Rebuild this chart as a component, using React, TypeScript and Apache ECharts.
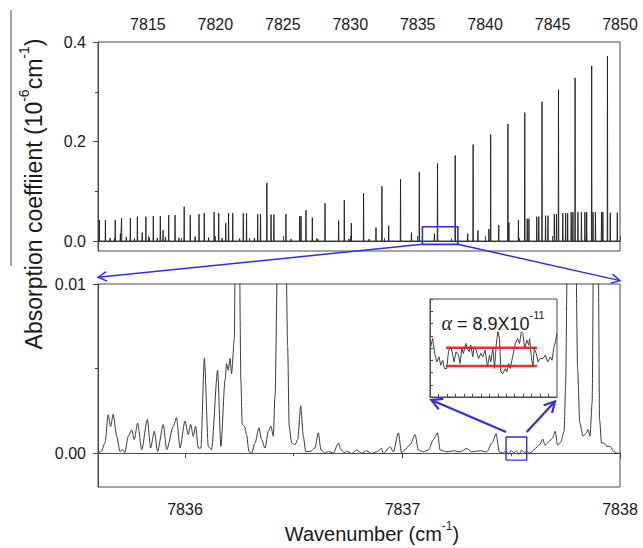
import React, { useEffect, useRef } from "react";
import * as echarts from "echarts";

// ---------- data ----------
// Top panel: survey spectrum, line positions (cm-1) and peak heights (1e-6 cm-1)
const strongLinePos = [
  7811.40, 7811.85, 7812.58, 7813.05, 7813.70, 7814.22, 7814.85, 7815.40, 7815.92, 7816.54,
  7817.01, 7817.69, 7818.14, 7818.79, 7819.18, 7819.91, 7820.25, 7820.98, 7821.29, 7822.07,
  7822.31, 7823.14, 7823.35, 7823.82, 7824.13, 7824.34, 7825.23, 7826.25, 7826.35, 7826.72,
  7827.19, 7828.13, 7829.14, 7829.56, 7830.08, 7830.99, 7831.91, 7832.35, 7832.85, 7833.73,
  7834.54, 7835.12, 7836.24, 7836.47, 7837.78, 7838.71, 7839.11, 7839.47, 7840.28, 7840.41,
  7841.01, 7841.69, 7841.77, 7842.47, 7842.94, 7843.12, 7843.25, 7843.83, 7843.98, 7844.22,
  7844.48, 7844.66, 7845.13, 7845.29, 7845.44, 7845.76, 7845.97, 7846.12, 7846.38, 7846.51,
  7846.67, 7846.88, 7847.14, 7847.40, 7847.53, 7847.90, 7848.00, 7848.18, 7848.63, 7848.73,
  7849.07, 7849.28, 7849.80,
];
const strongLineHeight = [
  0.042, 0.042, 0.042, 0.046, 0.046, 0.049, 0.049, 0.050, 0.050, 0.052,
  0.052, 0.069, 0.052, 0.054, 0.056, 0.058, 0.056, 0.056, 0.056, 0.056,
  0.056, 0.054, 0.054, 0.117, 0.053, 0.053, 0.054, 0.050, 0.050, 0.062,
  0.047, 0.076, 0.041, 0.082, 0.036, 0.096, 0.027, 0.110, 0.031, 0.124,
  0.017, 0.139, 0.015, 0.156, 0.172, 0.015, 0.194, 0.021, 0.024, 0.214,
  0.032, 0.235, 0.037, 0.042, 0.258, 0.045, 0.045, 0.049, 0.049, 0.280,
  0.051, 0.051, 0.054, 0.054, 0.304, 0.056, 0.056, 0.056, 0.058, 0.058,
  0.328, 0.058, 0.058, 0.058, 0.058, 0.352, 0.058, 0.058, 0.058, 0.058,
  0.372, 0.057, 0.057,
];
const weakLinePos = [
  7812.20, 7812.96, 7813.40, 7814.00, 7814.58, 7815.10, 7815.70, 7816.12, 7816.30, 7817.30,
  7818.50, 7819.50, 7820.50, 7820.77, 7821.80, 7822.90, 7825.60, 7827.60, 7829.90, 7831.40,
];
const weakLineHeight = [
  0.006, 0.015, 0.008, 0.005, 0.017, 0.007, 0.006, 0.022, 0.008, 0.006,
  0.009, 0.007, 0.006, 0.036, 0.005, 0.006, 0.004, 0.004, 0.004, 0.004,
];

// Bottom panel: zoomed spectrum 7835.6 - 7838 cm-1
const zoomWavenumber = [
  7835.600, 7835.615, 7835.632, 7835.647, 7835.658, 7835.670, 7835.686, 7835.701, 7835.712, 7835.724,
  7835.739, 7835.755, 7835.767, 7835.782, 7835.801, 7835.827, 7835.842, 7835.859, 7835.874, 7835.900,
  7835.916, 7835.946, 7835.961, 7835.977, 7836.000, 7836.015, 7836.026, 7836.038, 7836.049, 7836.061,
  7836.073, 7836.089, 7836.107, 7836.122, 7836.150, 7836.165, 7836.184, 7836.191, 7836.199, 7836.207,
  7836.214, 7836.227, 7836.231, 7836.242, 7836.250, 7836.257, 7836.263, 7836.273, 7836.283, 7836.294,
  7836.306, 7836.322, 7836.340, 7836.352, 7836.368, 7836.383, 7836.395, 7836.406, 7836.414, 7836.426,
  7836.445, 7836.464, 7836.472, 7836.479, 7836.490, 7836.506, 7836.518, 7836.532, 7836.544, 7836.555,
  7836.575, 7836.597, 7836.613, 7836.625, 7836.643, 7836.659, 7836.682, 7836.705, 7836.717, 7836.735,
  7836.743, 7836.766, 7836.789, 7836.812, 7836.835, 7836.858, 7836.881, 7836.904, 7836.912, 7836.943,
  7836.958, 7836.981, 7836.996, 7837.010, 7837.035, 7837.058, 7837.073, 7837.096, 7837.119, 7837.142,
  7837.161, 7837.173, 7837.204, 7837.234, 7837.265, 7837.295, 7837.318, 7837.356, 7837.387, 7837.415,
  7837.430, 7837.445, 7837.460, 7837.476, 7837.488, 7837.500, 7837.512, 7837.524, 7837.536, 7837.548,
  7837.560, 7837.571, 7837.584, 7837.595, 7837.610, 7837.630, 7837.645, 7837.655, 7837.672, 7837.690,
  7837.702, 7837.713, 7837.728, 7837.743, 7837.750, 7837.758, 7837.777, 7837.797, 7837.805, 7837.815,
  7837.830, 7837.845, 7837.853, 7837.862, 7837.872, 7837.878, 7837.890, 7837.900, 7837.906, 7837.915,
  7837.925, 7837.940, 7837.955, 7837.970, 7837.985, 7838.000,
];
const zoomAbsorption = [
  0.0000, 0.0001, 0.0006, 0.00227, 0.00158, 0.0023, 0.0010, 0.0001, 0.0002, 0.00004,
  0.0010, 0.00138, 0.0008, 0.00178, 0.0002, 0.0020, 0.0003, 0.0013, 0.0001, 0.0017,
  0.0002, 0.00158, 0.0021, 0.0003, 0.0019, 0.0011, 0.0017, 0.0010, 0.0016, 0.0003,
  0.0003, 0.0056, 0.0004, 0.0002, 0.0049, 0.0004, 0.0043, 0.0053, 0.0049, 0.0056,
  0.0047, 0.0068, 0.012, 0.020, 0.012, 0.0043, 0.0017, 0.0016, 0.0011, 0.0001,
  0.0000, 0.0006, 0.0015, 0.0008, 0.0003, 0.0013, 0.0016, 0.0010, 0.0034, 0.012,
  0.156, 0.012, 0.0063, 0.0016, 0.0006, 0.0005, 0.0008, 0.0028, 0.0010, 0.0001,
  0.0001, 0.0003, 0.0012, 0.0002, 0.0000, 0.0001, 0.0000, 0.0006, 0.0002, 0.0000,
  0.00013, -0.00002, 0.00018, 0.0000, 0.00014, -0.00002, 0.00008, 0.00028, -0.00002, 0.00038,
  0.00008, 0.0012, 0.0000, 0.0002, 0.0005, 0.0011, 0.00018, 0.00008, 0.00018, 0.0008,
  0.0012, 0.00018, 0.00008, 0.00014, 0.00008, 0.00028, 0.00008, 0.00014, 0.00008, 0.00067,
  0.00116, 0.00008, 0.0000, 0.00012, -0.00006, 0.00016, 0.00002, 0.00014, -0.00008, 0.00018,
  0.00004, 0.00010, 0.0000, 0.00008, 0.00028, 0.0005, 0.00083, 0.00047, 0.00067, 0.0009,
  0.0013, 0.00047, 0.00067, 0.0013, 0.0040, 0.012, 0.172, 0.012, 0.0050, 0.0018,
  0.0010, 0.0012, 0.0014, 0.0010, 0.0030, 0.012, 0.060, 0.012, 0.0020, 0.0006,
  0.0006, 0.0004, 0.0004, 0.0001, 0.0000, 0.0000,
];

// Inset: baseline noise inside the small blue box (arbitrary vertical units 0-100)
const insetWavenumber = [
  7837.4765, 7837.4780, 7837.4793, 7837.4810, 7837.4828, 7837.4840, 7837.4855, 7837.4868, 7837.4885, 7837.4898,
  7837.4910, 7837.4923, 7837.4940, 7837.4955, 7837.4973, 7837.4985, 7837.4998, 7837.5010, 7837.5028, 7837.5040,
  7837.5053, 7837.5065, 7837.5080, 7837.5090, 7837.5105, 7837.5123, 7837.5140, 7837.5155, 7837.5173, 7837.5190,
  7837.5205, 7837.5215, 7837.5230, 7837.5243, 7837.5255, 7837.5268, 7837.5280, 7837.5290, 7837.5305, 7837.5323,
  7837.5335, 7837.5348, 7837.5360, 7837.5378, 7837.5398, 7837.5415, 7837.5430, 7837.5443, 7837.5455, 7837.5468,
  7837.5485, 7837.5498, 7837.5505, 7837.5518, 7837.5530, 7837.5540, 7837.5555, 7837.5568, 7837.5585, 7837.5605,
  7837.5623, 7837.5640, 7837.5660, 7837.5673, 7837.5685, 7837.5698, 7837.5710,
];
const insetSignal = [
  51.2, 59.7, 46.1, 35.8, 41.0, 32.4, 37.5, 29.0, 29.0, 46.1,
  51.2, 47.8, 35.8, 46.1, 42.7, 34.1, 49.5, 44.4, 54.6, 49.5,
  46.1, 52.9, 41.0, 51.2, 47.8, 39.2, 44.4, 41.0, 47.8, 30.7,
  42.7, 35.8, 49.5, 29.0, 52.9, 66.6, 59.7, 25.6, 23.9, 29.0,
  25.6, 34.1, 29.0, 41.0, 54.6, 59.7, 54.6, 66.6, 64.8, 49.5,
  58.0, 52.9, 59.7, 41.0, 30.7, 49.5, 44.4, 35.8, 39.2, 39.2,
  42.7, 35.8, 41.0, 37.5, 49.5, 56.3, 64.8,
];
const noiseBandX = [7837.4880, 7837.5560];
const noiseBandLevels = [50.2, 31.7];

// Axis ticks and labels
const topMajorTicks = [7815, 7820, 7825, 7830, 7835, 7840, 7845, 7850];
const topMinorTicks = [7812.5, 7817.5, 7822.5, 7827.5, 7832.5, 7837.5, 7842.5, 7847.5];
const topYMajor = [0, 0.2, 0.4];
const topYMinor = [0.1, 0.3];
const bottomMajorTicks = [7836, 7837, 7838];
const bottomMinorTicks = [7836.5, 7837.5];
const bottomYMajor = [0, 0.01];
const bottomYMinor = [0.005];
const insetXTicks = [
  7837.4823, 7837.4887, 7837.4950, 7837.5013, 7837.5077, 7837.5140, 7837.5203,
  7837.5267, 7837.5330, 7837.5393, 7837.5457, 7837.5520, 7837.5583, 7837.5647,
];

// Zoom markers
const topBoxX = [7835.35, 7837.98];
const topBoxY = [-0.0066, 0.0287];
const smallBoxX = [7837.476, 7837.571];
const smallBoxY = [-0.00041, 0.00096];

const F = "Arial, 'Liberation Sans', Helvetica, sans-serif";
const AXIS = "#4a4a4a";
const BLUE = "#2d2df2";

function rectPath(xs: number[], ys: number[]) {
  return [
    [xs[0], ys[0]], [xs[1], ys[0]], [xs[1], ys[1]], [xs[0], ys[1]], [xs[0], ys[0]],
  ];
}

function arrow(from: number[], to: number[], width: number, head: number) {
  const dx = to[0] - from[0];
  const dy = to[1] - from[1];
  const L = Math.hypot(dx, dy) || 1;
  const ux = dx / L, uy = dy / L;
  const a = 0.5;
  const c = Math.cos(a), s = Math.sin(a);
  const r1 = [ux * c - uy * s, ux * s + uy * c];
  const r2 = [ux * c + uy * s, -ux * s + uy * c];
  const p1 = [to[0] - head * r1[0], to[1] - head * r1[1]];
  const p2 = [to[0] - head * r2[0], to[1] - head * r2[1]];
  return [
    { type: "line", z: 100, shape: { x1: from[0], y1: from[1], x2: to[0], y2: to[1] }, style: { stroke: BLUE, lineWidth: width } },
    { type: "polyline", z: 100, shape: { points: [p1, to, p2] }, style: { stroke: BLUE, fill: null, lineWidth: width } },
  ];
}

export default function App() {
  const ref = useRef<HTMLDivElement>(null);

  useEffect(() => {
    if (!ref.current) return;
    const chart = echarts.init(ref.current, null, { renderer: "svg" });

    // build top spectrum from line list
    const lines: number[][] = [];
    strongLinePos.forEach((p, i) => lines.push([p, strongLineHeight[i]]));
    weakLinePos.forEach((p, i) => lines.push([p, weakLineHeight[i]]));
    lines.sort((a, b) => a[0] - b[0]);
    const topData: number[][] = [[7811.3, 0]];
    const d = 0.02;
    lines.forEach(([p, h]) => {
      topData.push([p - d, 0], [p, h], [p + d, 0]);
    });
    topData.push([7850, 0]);

    const bottomData = zoomWavenumber.map((x, i) => [x, zoomAbsorption[i]]);
    const insetData = insetWavenumber.map((x, i) => [x, insetSignal[i]]);

    const labelStyle = { color: "#1a1a1a", fontSize: 16, fontFamily: F };
    const gridBase = { show: true, borderColor: AXIS, borderWidth: 1, backgroundColor: "transparent", outerBoundsMode: "none", containLabel: false };

    const option: any = {
      animation: false,
      grid: [
        { ...gridBase, left: 98, top: 42, width: 522, height: 209 },
        { ...gridBase, left: 98, top: 284, width: 522, height: 203 },
        { ...gridBase, left: 430, top: 299, width: 127, height: 98, z: 5 },
      ],
      xAxis: [
        {
          type: "value", gridIndex: 0, position: "top", min: 7811.3, max: 7850,
          axisLine: { show: true, lineStyle: { color: AXIS, width: 1 } },
          axisTick: { show: true, customValues: topMajorTicks, length: 5, lineStyle: { color: AXIS } },
          axisLabel: { show: true, customValues: topMajorTicks, margin: 10, formatter: (v: number) => String(v), ...labelStyle },
          splitLine: { show: false },
        },
        {
          type: "value", gridIndex: 0, position: "top", min: 7811.3, max: 7850,
          axisLine: { show: false },
          axisTick: { show: true, customValues: topMinorTicks, length: 3, lineStyle: { color: AXIS } },
          axisLabel: { show: false },
          splitLine: { show: false },
        },
        {
          type: "value", gridIndex: 1, position: "bottom", min: 7835.6, max: 7838,
          axisLine: { show: true, lineStyle: { color: AXIS, width: 1 } },
          axisTick: { show: true, customValues: bottomMajorTicks, length: 5, lineStyle: { color: AXIS } },
          axisLabel: { show: true, customValues: bottomMajorTicks, margin: 14, formatter: (v: number) => String(v), ...labelStyle },
          splitLine: { show: false },
        },
        {
          type: "value", gridIndex: 1, position: "bottom", min: 7835.6, max: 7838,
          axisLine: { show: false },
          axisTick: { show: true, customValues: bottomMinorTicks, length: 3, lineStyle: { color: AXIS } },
          axisLabel: { show: false },
          splitLine: { show: false },
        },
        {
          type: "value", gridIndex: 2, position: "bottom", min: 7837.476, max: 7837.571, z: 6,
          axisLine: { show: true, lineStyle: { color: AXIS, width: 1 } },
          axisTick: { show: true, inside: true, customValues: insetXTicks, length: 3, lineStyle: { color: AXIS } },
          axisLabel: { show: false },
          splitLine: { show: false },
        },
      ],
      yAxis: [
        {
          type: "value", gridIndex: 0, position: "left", min: -0.02, max: 0.4,
          axisLine: { show: true, lineStyle: { color: AXIS, width: 1 } },
          axisTick: { show: true, customValues: topYMajor, length: 5, lineStyle: { color: AXIS } },
          axisLabel: { show: true, customValues: topYMajor, margin: 12, formatter: (v: number) => v.toFixed(1), ...labelStyle },
          splitLine: { show: false },
        },
        {
          type: "value", gridIndex: 0, position: "left", min: -0.02, max: 0.4,
          axisLine: { show: false },
          axisTick: { show: true, customValues: topYMinor, length: 3, lineStyle: { color: AXIS } },
          axisLabel: { show: false },
          splitLine: { show: false },
        },
        {
          type: "value", gridIndex: 1, position: "left", min: -0.002, max: 0.01,
          axisLine: { show: true, lineStyle: { color: AXIS, width: 1 } },
          axisTick: { show: true, customValues: bottomYMajor, length: 5, lineStyle: { color: AXIS } },
          axisLabel: { show: true, customValues: bottomYMajor, margin: 12, formatter: (v: number) => v.toFixed(2), ...labelStyle },
          splitLine: { show: false },
        },
        {
          type: "value", gridIndex: 1, position: "left", min: -0.002, max: 0.01,
          axisLine: { show: false },
          axisTick: { show: true, customValues: bottomYMinor, length: 3, lineStyle: { color: AXIS } },
          axisLabel: { show: false },
          splitLine: { show: false },
        },
        {
          type: "value", gridIndex: 2, position: "left", min: 0, max: 100, interval: 12.5, z: 6,
          axisLine: { show: true, lineStyle: { color: AXIS, width: 1 } },
          axisTick: { show: true, inside: true, length: 3, lineStyle: { color: AXIS } },
          axisLabel: { show: false },
          splitLine: { show: false },
        },
      ],
      series: [
        {
          type: "line", xAxisIndex: 0, yAxisIndex: 0, data: topData, showSymbol: false, symbol: "none",
          lineStyle: { color: "#1e1e1e", width: 0.9 }, clip: true, silent: true,
        },
        {
          type: "line", xAxisIndex: 0, yAxisIndex: 0, data: rectPath(topBoxX, topBoxY), showSymbol: false, symbol: "none",
          lineStyle: { color: BLUE, width: 1.6 }, z: 4, silent: true,
        },
        {
          type: "line", xAxisIndex: 2, yAxisIndex: 2, data: bottomData, showSymbol: false, symbol: "none",
          smooth: 0.25, smoothMonotone: "x",
          lineStyle: { color: "#3a3a3a", width: 1 }, clip: true, silent: true,
        },
        {
          type: "line", xAxisIndex: 2, yAxisIndex: 2, data: rectPath(smallBoxX, smallBoxY), showSymbol: false, symbol: "none",
          lineStyle: { color: BLUE, width: 1.4 }, z: 4, silent: true,
        },
        {
          type: "line", xAxisIndex: 4, yAxisIndex: 4, data: insetData, showSymbol: false, symbol: "none",
          lineStyle: { color: "#404040", width: 1 }, z: 6, silent: true,
        },
        ...noiseBandLevels.map((lv) => ({
          type: "line", xAxisIndex: 4, yAxisIndex: 4, data: noiseBandX.map((x) => [x, lv]), showSymbol: false, symbol: "none",
          lineStyle: { color: "#e3221c", width: 2.6, opacity: 0.92 }, z: 7, silent: true,
        })),
      ],
    };

    chart.setOption(option);

    const px = (xi: number, yi: number, pt: number[]) =>
      chart.convertToPixel({ xAxisIndex: xi, yAxisIndex: yi } as any, pt) as unknown as number[];

    const topBL = px(0, 0, [topBoxX[0], topBoxY[0]]);
    const topBR = px(0, 0, [topBoxX[1], topBoxY[0]]);
    const botTL = px(2, 2, [7835.6, 0.0104]);
    const botTR = px(2, 2, [7838, 0.0102]);
    const smTL = px(2, 2, [smallBoxX[0], 0.00125]);
    const smTR = px(2, 2, [smallBoxX[1], 0.00125]);
    const inBL = px(4, 4, [7837.4770, -3]);
    const inBR = px(4, 4, [7837.5695, -4.5]);

    const graphic: any[] = [
      ...arrow(topBL, botTL, 1.5, 10),
      ...arrow(topBR, botTR, 1.5, 10),
      ...arrow(smTL, inBL, 2.2, 12),
      ...arrow(smTR, inBR, 2.2, 12),
      {
        type: "line", shape: { x1: 11, y1: 10, x2: 11, y2: 266 },
        style: { stroke: "#8a8a8a", lineWidth: 1.5 },
      },
      {
        type: "text", x: 31, y: 194, rotation: Math.PI / 2, z: 100,
        style: {
          text: "{a|Absorption coeffiient (10}{s|-6}{a|cm}{s|-1}{a|)}",
          align: "center", verticalAlign: "middle",
          rich: {
            a: { fontSize: 23, fontFamily: F, fill: "#1a1a1a", lineHeight: 28, verticalAlign: "bottom" },
            s: { fontSize: 14, fontFamily: F, fill: "#1a1a1a", lineHeight: 15, verticalAlign: "top" },
          },
        },
      },
      {
        type: "text", x: 372, y: 532, z: 100,
        style: {
          text: "{a|Wavenumber (cm}{s|-1}{a|)}",
          align: "center", verticalAlign: "middle",
          rich: {
            a: { fontSize: 20, fontFamily: F, fill: "#1a1a1a", lineHeight: 24, verticalAlign: "bottom" },
            s: { fontSize: 12, fontFamily: F, fill: "#1a1a1a", lineHeight: 13, verticalAlign: "top" },
          },
        },
      },
      {
        type: "text", x: 493, y: 321, z: 100,
        style: {
          text: "{g|α}{a| = 8.9X10}{s|-11}",
          align: "center", verticalAlign: "middle",
          rich: {
            g: { fontSize: 20, fontFamily: "'Liberation Serif', 'Times New Roman', serif", fontStyle: "italic", fill: "#1a1a1a", lineHeight: 24, verticalAlign: "bottom" },
            a: { fontSize: 18, fontFamily: F, fill: "#1a1a1a", lineHeight: 24, verticalAlign: "bottom" },
            s: { fontSize: 11, fontFamily: F, fill: "#1a1a1a", lineHeight: 12, verticalAlign: "top" },
          },
        },
      },
    ];

    chart.setOption({ graphic });

    return () => chart.dispose();
  }, []);

  return <div ref={ref} style={{ width: 643, height: 548, position: "absolute", left: 0, top: 0 }} />;
}
